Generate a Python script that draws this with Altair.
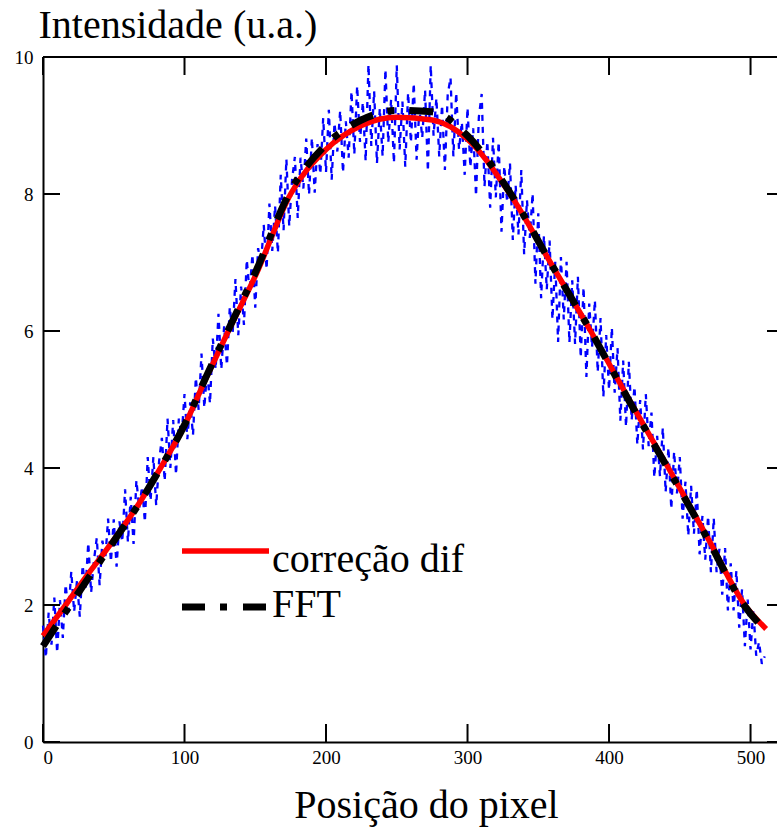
import altair as alt
import pandas as pd

# ---------------- data ----------------
pixel = list(range(0, 512, 2))
blue_vals = [
    1.70, 1.23, 1.89, 1.42, 2.11, 1.30, 2.07, 1.52, 2.30, 1.89,
    2.49, 1.90, 2.35, 1.83, 2.58, 2.22, 2.91, 2.18, 2.65, 2.98,
    2.29, 2.94, 2.67, 3.26, 2.63, 3.25, 2.56, 3.22, 2.92, 3.69,
    2.92, 3.58, 2.89, 3.82, 3.41, 3.73, 3.21, 4.16, 3.52, 4.16,
    3.45, 4.09, 4.44, 3.81, 4.72, 4.00, 4.70, 3.90, 4.72, 4.47,
    5.08, 4.42, 4.96, 4.48, 5.32, 4.85, 5.67, 4.88, 5.43, 4.94,
    5.89, 5.44, 6.25, 5.44, 6.07, 5.50, 6.35, 5.96, 6.76, 5.94,
    6.65, 6.09, 7.04, 6.56, 7.12, 6.34, 7.21, 6.96, 7.55, 6.90,
    7.86, 7.17, 7.83, 7.14, 8.28, 7.47, 8.51, 7.53, 8.21, 8.54,
    7.65, 8.53, 8.08, 8.81, 7.99, 8.82, 8.02, 8.73, 8.29, 9.11,
    8.32, 9.23, 8.21, 9.04, 8.62, 9.22, 8.31, 9.06, 8.53, 9.50,
    8.58, 9.58, 8.76, 9.34, 8.48, 9.89, 8.70, 9.50, 8.45, 9.25,
    8.55, 9.82, 8.75, 9.38, 8.45, 9.88, 8.65, 9.35, 8.40, 9.48,
    8.75, 9.62, 8.50, 9.25, 8.82, 9.52, 8.33, 9.88, 8.85, 9.40,
    8.55, 9.30, 8.35, 9.45, 9.70, 8.55, 9.48, 8.65, 9.05, 8.28,
    9.26, 8.39, 8.96, 7.97, 9.12, 9.46, 8.11, 8.77, 7.80, 8.82,
    7.95, 8.76, 7.45, 8.41, 7.88, 8.45, 7.33, 8.13, 7.41, 8.35,
    7.12, 7.91, 7.36, 8.01, 6.69, 7.72, 6.48, 7.39, 6.61, 7.32,
    6.17, 7.01, 5.84, 7.08, 6.17, 7.01, 5.83, 6.74, 5.81, 6.79,
    5.61, 6.64, 5.33, 6.40, 5.76, 6.45, 5.40, 6.19, 5.04, 5.94,
    5.14, 6.05, 5.10, 5.75, 4.69, 5.57, 4.60, 5.55, 4.70, 5.19,
    4.34, 4.99, 4.27, 5.08, 4.32, 4.81, 3.86, 4.47, 3.88, 4.59,
    3.65, 4.30, 3.40, 4.24, 3.63, 4.16, 3.26, 3.80, 3.01, 3.74,
    3.04, 3.69, 2.74, 3.30, 2.66, 3.30, 2.48, 3.27, 2.48, 2.82,
    2.15, 2.83, 1.92, 2.61, 1.92, 2.50, 1.67, 2.23, 1.40, 2.08,
    1.35, 1.93, 1.26, 1.46, 1.14, 1.25,
]

curve_x = [0, 16, 30, 50, 70, 83, 100, 115, 131, 150, 175, 200, 225, 250,
           275, 300, 330, 360, 387, 415, 442, 470, 496, 511]
red_vals = [1.55, 2.0, 2.4, 2.95, 3.55, 4.0, 4.62, 5.3, 6.0, 6.8, 8.0, 8.65,
            9.0, 9.12, 9.08, 8.8, 8.0, 6.95, 6.0, 4.97, 4.0, 2.97, 2.0, 1.65]
fft_vals = [1.4, 1.9, 2.33, 2.93, 3.55, 4.0, 4.63, 5.32, 6.02, 6.85, 8.05,
            8.72, 9.08, 9.22, 9.2, 8.85, 8.02, 6.95, 6.0, 4.95, 3.98, 2.95,
            1.98, 1.62]

x_ticks = [0, 100, 200, 300, 400, 500]
y_ticks = [0, 2, 4, 6, 8, 10]
legend_labels = ["correção dif", "FFT"]

# ---------------- layout constants ----------------
W, H = 734, 685
XMAX = 518.7
FONT = "Liberation Serif"
BIG = 40

df_blue = pd.DataFrame({"x": pixel, "y": blue_vals})
df_red = pd.DataFrame({"x": curve_x, "y": red_vals})
df_fft = pd.DataFrame({"x": curve_x, "y": fft_vals})
df_xt = pd.DataFrame({"t": x_ticks})
df_yt = pd.DataFrame({"t": y_ticks})

xs = alt.Scale(domain=[0, XMAX], nice=False, zero=False)
ys = alt.Scale(domain=[0, 10], nice=False)

x_axis = alt.Axis(values=x_ticks, format="d", ticks=False, grid=False, domain=True,
                  domainColor="black", domainWidth=2, labelFont=FONT,
                  labelFontSize=19, labelColor="black", labelPadding=6,
                  labelFlush=True, title="Posição do pixel", titleFont=FONT,
                  titleFontSize=BIG, titleFontWeight="normal", titleColor="black",
                  titleX=383, titleY=75, titleBaseline="alphabetic")
y_axis = alt.Axis(values=y_ticks, format="d", ticks=False, grid=False, domain=True,
                  domainColor="black", domainWidth=2, labelFont=FONT,
                  labelFontSize=19, labelColor="black", labelPadding=10,
                  labelFlush=False, title="Intensidade (u.a.)", titleFont=FONT,
                  titleFontSize=BIG, titleFontWeight="normal", titleColor="black",
                  titleAngle=0, titleAlign="left", titleBaseline="alphabetic",
                  titleX=-5, titleY=-20)

blue = alt.Chart(df_blue).mark_line(color="#0000ff", strokeWidth=2.3,
                                    strokeDash=[6, 6]).encode(
    x=alt.X("x:Q", scale=xs, axis=x_axis),
    y=alt.Y("y:Q", scale=ys, axis=y_axis),
)
red = alt.Chart(df_red).mark_line(color="#ff0000", strokeWidth=5.5,
                                  interpolate="monotone").encode(
    x=alt.X("x:Q", scale=xs), y=alt.Y("y:Q", scale=ys))
fft = alt.Chart(df_fft).mark_line(color="black", strokeWidth=7,
                                  strokeDash=[24, 15, 7, 15],
                                  interpolate="monotone").encode(
    x=alt.X("x:Q", scale=xs), y=alt.Y("y:Q", scale=ys))

tick_style = dict(color="black", strokeWidth=2)
xt_bottom = alt.Chart(df_xt).mark_rule(**tick_style).encode(
    x=alt.X("t:Q", scale=xs), y=alt.value(H - 18), y2=alt.value(H))
xt_top = alt.Chart(df_xt).mark_rule(**tick_style).encode(
    x=alt.X("t:Q", scale=xs), y=alt.value(0), y2=alt.value(18))
yt_left = alt.Chart(df_yt).mark_rule(**tick_style).encode(
    y=alt.Y("t:Q", scale=ys), x=alt.value(0), x2=alt.value(17))
yt_right = alt.Chart(df_yt).mark_rule(**tick_style).encode(
    y=alt.Y("t:Q", scale=ys), x=alt.value(W - 10), x2=alt.value(W))
top_border = alt.Chart(df_xt).mark_rule(**tick_style).encode(
    x=alt.value(0), x2=alt.value(W), y=alt.value(0))

df_leg1 = pd.DataFrame({"label": [legend_labels[0]]})
df_leg2 = pd.DataFrame({"label": [legend_labels[1]]})
leg_red = alt.Chart(df_leg1).mark_rule(color="#ff0000", strokeWidth=5.5).encode(
    x=alt.value(139), x2=alt.value(226), y=alt.value(494))
leg_fft = alt.Chart(df_leg2).mark_rule(color="black", strokeWidth=7,
                                       strokeDash=[23, 15, 7, 16]).encode(
    x=alt.value(139), x2=alt.value(226), y=alt.value(550))
leg_t1 = alt.Chart(df_leg1).mark_text(font=FONT, fontSize=BIG, align="left",
                                      baseline="alphabetic", color="black").encode(
    x=alt.value(229), y=alt.value(515), text="label:N")
leg_t2 = alt.Chart(df_leg2).mark_text(font=FONT, fontSize=BIG, align="left",
                                      baseline="alphabetic", color="black").encode(
    x=alt.value(229), y=alt.value(560), text="label:N")

chart = alt.layer(
    blue, red, fft, xt_bottom, xt_top, yt_left, yt_right, top_border,
    leg_red, leg_fft, leg_t1, leg_t2,
).properties(
    width=W, height=H,
    autosize=alt.AutoSizeParams(type="none"),
    padding={"left": 43, "top": 57, "right": 0, "bottom": 85},
    background="white",
).configure_view(stroke="transparent")

chart.save("out.html", embed_options={"renderer": "svg", "actions": False})
